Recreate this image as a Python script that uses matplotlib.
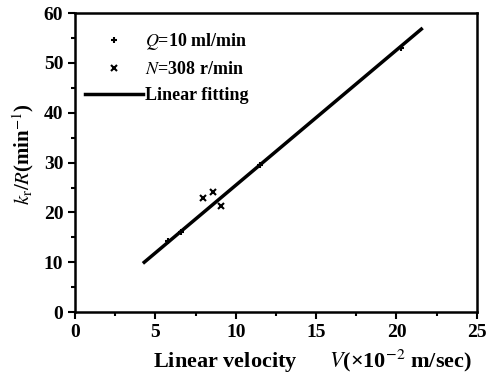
import matplotlib
matplotlib.use("Agg")
import matplotlib.pyplot as plt
from matplotlib.ticker import MultipleLocator

# data
v_flow = [5.8, 6.6, 11.5, 20.3]        # Q = 10 ml/min
kr_flow = [14.3, 16.0, 29.6, 53.0]
v_speed = [7.95, 8.6, 9.1]             # N = 308 r/min
kr_speed = [22.9, 24.1, 21.3]
fit_x = [4.3, 21.55]
fit_y = [10.0, 56.8]

plt.rcParams['font.family'] = ['Liberation Serif', 'DejaVu Serif']
plt.rcParams['mathtext.fontset'] = 'stix'

fig = plt.figure(figsize=(4.88, 3.76), dpi=100)
ax = fig.add_axes([0.154, 0.170, 0.823, 0.795])

ax.plot(v_flow, kr_flow, linestyle='none', marker='+', ms=4, mew=1.5, color='black',
        label='$Q$=10 ml/min')
ax.plot(v_speed, kr_speed, linestyle='none', marker='x', ms=4, mew=1.5, color='black',
        label='$N$=308 r/min')
ax.plot(fit_x, fit_y, color='black', lw=2.5, label='Linear fitting')

ax.set_xlim(0, 25)
ax.set_ylim(0, 60)
ax.xaxis.set_major_locator(MultipleLocator(5))
ax.xaxis.set_minor_locator(MultipleLocator(2.5))
ax.yaxis.set_major_locator(MultipleLocator(10))
ax.yaxis.set_minor_locator(MultipleLocator(5))
ax.tick_params(which='both', direction='out', width=1.5, labelsize=14)
ax.tick_params(which='major', length=5)
ax.tick_params(which='minor', length=3)
for lab in ax.get_xticklabels() + ax.get_yticklabels():
    lab.set_fontweight('bold')
for sp in ax.spines.values():
    sp.set_linewidth(1.8)

ax.set_xlabel('Linear velocity      $V$(×10$^{-2}$ m/sec)', fontsize=16, fontweight='bold')
ax.xaxis.set_label_coords(0.59, -0.118)
ax.set_ylabel('$k_\\mathrm{r}$/$R$(min$^{-1}$)', fontsize=15, fontweight='bold')
ax.yaxis.set_label_coords(-0.098, 0.53)

leg = ax.legend(loc='upper left', frameon=False, fontsize=13, handlelength=3.2,
                handletextpad=0.1, borderaxespad=0.1, labelspacing=0.5,
                bbox_to_anchor=(0.002, 0.97))
for t in leg.get_texts():
    t.set_fontweight('bold')

fig.savefig('out.png', dpi=100)
